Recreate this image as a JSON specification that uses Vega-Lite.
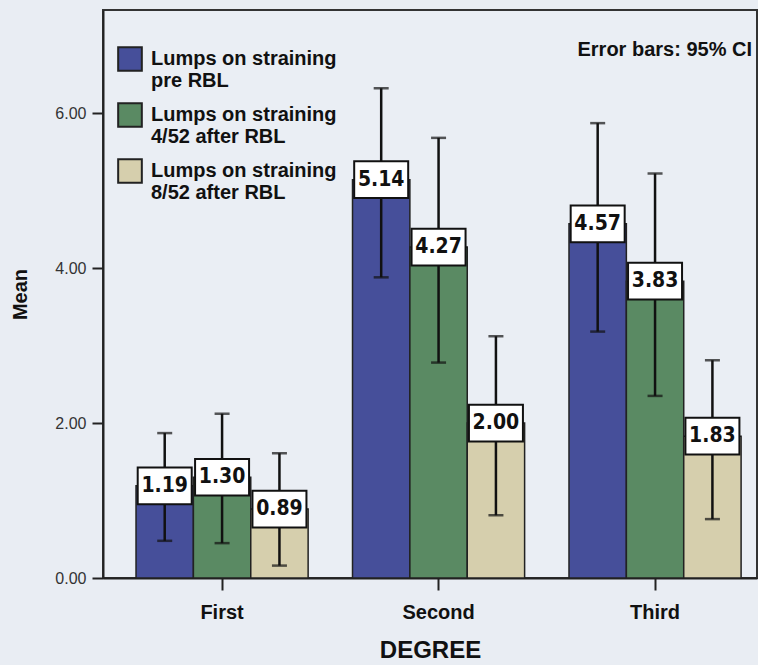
{
  "$schema": "https://vega.github.io/schema/vega-lite/v6.json",
  "width": 654,
  "height": 568,
  "autosize": {"type": "none"},
  "padding": {"left": 103, "top": 10, "right": 1, "bottom": 87},
  "background": "#e9edf3",
  "title": {
    "text": "Error bars: 95% CI",
    "orient": "top",
    "anchor": "end",
    "frame": "group",
    "offset": -66,
    "baseline": "alphabetic",
    "dx": -5,
    "font": "Liberation Sans",
    "fontSize": 20,
    "fontWeight": "bold",
    "color": "#111"
  },
  "data": {
    "values": [
      {"degree": "First", "series": "Lumps on straining pre RBL", "mean": 1.19, "lo": 0.48, "hi": 1.87},
      {"degree": "First", "series": "Lumps on straining 4/52 after RBL", "mean": 1.30, "lo": 0.45, "hi": 2.12},
      {"degree": "First", "series": "Lumps on straining 8/52 after RBL", "mean": 0.89, "lo": 0.16, "hi": 1.61},
      {"degree": "Second", "series": "Lumps on straining pre RBL", "mean": 5.14, "lo": 3.88, "hi": 6.32},
      {"degree": "Second", "series": "Lumps on straining 4/52 after RBL", "mean": 4.27, "lo": 2.78, "hi": 5.68},
      {"degree": "Second", "series": "Lumps on straining 8/52 after RBL", "mean": 2.00, "lo": 0.81, "hi": 3.12},
      {"degree": "Third", "series": "Lumps on straining pre RBL", "mean": 4.57, "lo": 3.18, "hi": 5.87},
      {"degree": "Third", "series": "Lumps on straining 4/52 after RBL", "mean": 3.83, "lo": 2.35, "hi": 5.22},
      {"degree": "Third", "series": "Lumps on straining 8/52 after RBL", "mean": 1.83, "lo": 0.76, "hi": 2.81}
    ]
  },
  "encoding": {
    "x": {
      "field": "degree",
      "type": "nominal",
      "sort": ["First", "Second", "Third"],
      "scale": {"paddingInner": 0.205, "paddingOuter": 0.113, "align": 0.675},
      "axis": {
        "title": "DEGREE",
        "labelAngle": 0,
        "labelFont": "Liberation Sans",
        "labelFontSize": 20,
        "labelFontWeight": "bold",
        "labelColor": "#111",
        "labelPadding": 12,
        "tickSize": 12,
        "tickWidth": 2,
        "tickColor": "#222",
        "domainColor": "#222",
        "domainWidth": 2,
        "titleFont": "Liberation Sans",
        "titleFontSize": 24,
        "titleFontWeight": "bold",
        "titleColor": "#111",
        "titlePadding": 16
      }
    },
    "xOffset": {
      "field": "series",
      "type": "nominal",
      "sort": ["Lumps on straining pre RBL", "Lumps on straining 4/52 after RBL", "Lumps on straining 8/52 after RBL"]
    }
  },
  "layer": [
    {
      "mark": {"type": "bar", "stroke": "#222", "strokeWidth": 1.5},
      "encoding": {
        "y": {
          "field": "mean",
          "type": "quantitative",
          "scale": {"domain": [0, 7.33], "nice": false, "zero": true},
          "axis": {
            "title": "Mean",
            "values": [0, 2, 4, 6],
            "format": ".2f",
            "grid": false,
            "labelFont": "Liberation Sans",
            "labelFontSize": 16,
            "labelColor": "#333",
            "labelPadding": 6,
            "tickSize": 11,
            "tickWidth": 2,
            "tickColor": "#222",
            "domainColor": "#222",
            "domainWidth": 2,
            "titleFont": "Liberation Sans",
            "titleFontSize": 20,
            "titleFontWeight": "bold",
            "titleColor": "#111",
            "titlePadding": 24
          }
        },
        "color": {
          "field": "series",
          "type": "nominal",
          "scale": {
            "domain": ["Lumps on straining pre RBL", "Lumps on straining 4/52 after RBL", "Lumps on straining 8/52 after RBL"],
            "range": ["#464f9a", "#5a8a63", "#d6cfad"]
          },
          "legend": {
            "title": null,
            "orient": "none",
            "legendX": 14,
            "legendY": 36,
            "symbolType": "square",
            "symbolSize": 560,
            "symbolStrokeColor": "#222",
            "symbolStrokeWidth": 2,
            "symbolOpacity": 1,
            "labelFont": "Liberation Sans",
            "labelFontSize": 20,
            "labelFontWeight": "bold",
            "labelColor": "#111",
            "labelLimit": 0,
            "labelOffset": 8,
            "rowPadding": 8,
            "labelExpr": "[slice(datum.label, 0, 18), slice(datum.label, 19)]"
          }
        }
      }
    },
    {
      "mark": {"type": "rule", "color": "#111", "strokeWidth": 2.5},
      "encoding": {
        "y": {"field": "lo", "type": "quantitative"},
        "y2": {"field": "hi"}
      }
    },
    {
      "mark": {"type": "tick", "color": "#111", "thickness": 2.5, "size": 15},
      "encoding": {"y": {"field": "lo", "type": "quantitative"}}
    },
    {
      "mark": {"type": "tick", "color": "#111", "thickness": 2.5, "size": 15},
      "encoding": {"y": {"field": "hi", "type": "quantitative"}}
    },
    {
      "mark": {
        "type": "point",
        "shape": "M-1,-0.68L1,-0.68L1,0.68L-1,0.68Z",
        "filled": true,
        "fill": "#ffffff",
        "stroke": "#111",
        "strokeWidth": 2,
        "size": 2916,
        "opacity": 1
      },
      "encoding": {"y": {"field": "mean", "type": "quantitative"}}
    },
    {
      "mark": {
        "type": "text",
        "font": "DejaVu Sans Condensed, Liberation Sans, sans-serif",
        "fontSize": 21,
        "fontWeight": "bold",
        "color": "#111",
        "baseline": "middle",
        "align": "center"
      },
      "encoding": {
        "y": {"field": "mean", "type": "quantitative"},
        "text": {"field": "mean", "type": "quantitative", "format": ".2f"}
      }
    }
  ],
  "config": {
    "view": {"stroke": "#333", "strokeWidth": 2, "fill": "#eaeef4"}
  }
}
